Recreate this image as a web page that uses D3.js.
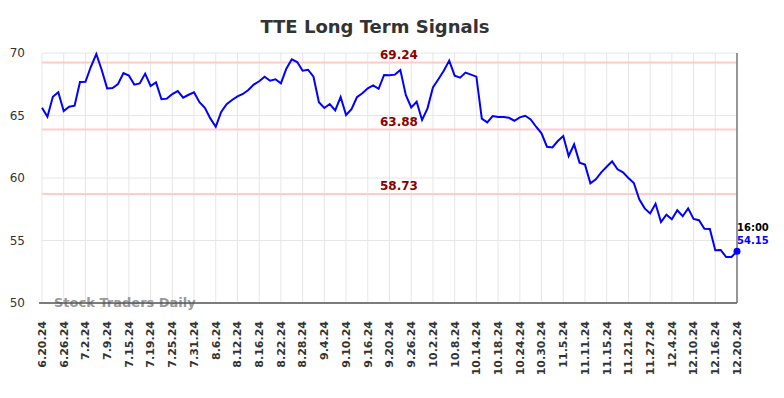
<!DOCTYPE html>
<html>
<head>
<meta charset="utf-8">
<script src="https://d3js.org/d3.v7.min.js"></script>
<style>
  body { margin: 0; background: #fff; }
  text { font-family: "DejaVu Sans", sans-serif; }
</style>
</head>
<body>
<div id="chart"></div>
<script>
// closing values, one per trading day (6.20.24 .. 12.20.24)
var values = [
  65.62, 64.9, 66.5, 66.86, 65.36, 65.7, 65.78, 67.68, 67.7, 68.9,
  69.92, 68.64, 67.17, 67.2, 67.52, 68.4, 68.2, 67.47, 67.57, 68.35,
  67.36, 67.65, 66.3, 66.35, 66.72, 66.96, 66.42, 66.66, 66.86, 66.06,
  65.62, 64.77, 64.1, 65.28, 65.9, 66.24, 66.53, 66.72, 67.04, 67.47,
  67.74, 68.1, 67.78, 67.9, 67.57, 68.75, 69.5, 69.28, 68.58, 68.66,
  68.1, 66.06, 65.6, 65.92, 65.41, 66.48, 65.04, 65.5, 66.46, 66.78,
  67.17, 67.41, 67.14, 68.24, 68.22, 68.27, 68.64, 66.64, 65.65, 66.1,
  64.64, 65.57, 67.25, 67.9, 68.58, 69.39, 68.19, 68.03, 68.43, 68.27,
  68.11, 64.75, 64.45, 64.96, 64.88, 64.88, 64.82, 64.58, 64.85, 64.98,
  64.69, 64.1, 63.57, 62.5, 62.45, 62.96, 63.36, 61.76, 62.69, 61.23,
  61.07, 59.57, 59.9, 60.45, 60.9, 61.33, 60.7, 60.45, 60.0, 59.6,
  58.3, 57.57, 57.17, 57.94, 56.48, 57.07, 56.7, 57.42, 56.94, 57.57,
  56.72, 56.62, 55.94, 55.92, 54.22, 54.24, 53.68, 53.68, 54.15
];

// one label every 4 trading days
var tickLabels = [
  "6.20.24", "6.26.24", "7.2.24", "7.9.24", "7.15.24", "7.19.24", "7.25.24",
  "7.31.24", "8.6.24", "8.12.24", "8.16.24", "8.22.24", "8.28.24", "9.4.24",
  "9.10.24", "9.16.24", "9.20.24", "9.26.24", "10.2.24", "10.8.24", "10.14.24",
  "10.18.24", "10.24.24", "10.30.24", "11.5.24", "11.11.24", "11.15.24",
  "11.21.24", "11.27.24", "12.4.24", "12.10.24", "12.16.24", "12.20.24"
];
var tickStep = 4;

var yTicks = [50, 55, 60, 65, 70];
var signalLevels = [69.24, 63.88, 58.73];
var lastTime = "16:00";

var width = 784, height = 398;
var margin = { top: 53, right: 47, bottom: 95, left: 42 };
var w = width - margin.left - margin.right,
  h = height - margin.top - margin.bottom;

var svg = d3
  .select("#chart")
  .append("svg")
  .attr("width", width)
  .attr("height", height);

svg
  .append("text")
  .attr("x", 375)
  .attr("y", 33)
  .attr("text-anchor", "middle")
  .style("font-size", "18px")
  .style("font-weight", "bold")
  .style("fill", "#333")
  .text("TTE Long Term Signals");

var g = svg
  .append("g")
  .attr("transform", "translate(" + margin.left + "," + margin.top + ")");

var x = d3.scaleLinear().domain([0, values.length - 1]).range([0, w]);
var y = d3.scaleLinear().domain([50, 70]).range([h, 0]);

var tickIdx = tickLabels.map(function (d, i) {
  return i * tickStep;
});

// grid
g.append("g")
  .selectAll("line")
  .data(yTicks)
  .enter()
  .append("line")
  .attr("x1", 0)
  .attr("x2", w)
  .attr("y1", function (d) { return y(d); })
  .attr("y2", function (d) { return y(d); })
  .style("stroke", "#e6e6e6");

g.append("g")
  .selectAll("line")
  .data(tickIdx)
  .enter()
  .append("line")
  .attr("x1", function (d) { return x(d); })
  .attr("x2", function (d) { return x(d); })
  .attr("y1", 0)
  .attr("y2", h)
  .style("stroke", "#e6e6e6");

// y labels
g.append("g")
  .selectAll("text")
  .data(yTicks)
  .enter()
  .append("text")
  .attr("x", -17)
  .attr("y", function (d) { return y(d); })
  .attr("dy", "0.35em")
  .attr("text-anchor", "end")
  .style("font-size", "12px")
  .style("fill", "#333")
  .text(function (d) { return d; });

// x labels (rotated)
g.append("g")
  .selectAll("text")
  .data(tickLabels)
  .enter()
  .append("text")
  .attr("transform", function (d, i) {
    return "translate(" + x(tickIdx[i]) + "," + (h + 18) + ") rotate(-90)";
  })
  .attr("dy", "0.35em")
  .attr("text-anchor", "end")
  .style("font-size", "11px")
  .style("font-weight", "bold")
  .style("fill", "#333")
  .text(function (d) { return d; });

// signal levels
g.append("g")
  .selectAll("line")
  .data(signalLevels)
  .enter()
  .append("line")
  .attr("x1", 0)
  .attr("x2", w)
  .attr("y1", function (d) { return y(d); })
  .attr("y2", function (d) { return y(d); })
  .style("stroke", "#ffcccc")
  .style("stroke-width", 2);

// watermark
g.append("text")
  .attr("x", 12)
  .attr("y", h + 4)
  .style("font-size", "13px")
  .style("font-weight", "bold")
  .style("fill", "#999")
  .text("Stock Traders Daily");

// axis lines
g.append("line")
  .attr("x1", -3)
  .attr("x2", w)
  .attr("y1", h)
  .attr("y2", h)
  .style("stroke", "#555")
  .style("stroke-width", 1.5);
g.append("line")
  .attr("x1", w)
  .attr("x2", w)
  .attr("y1", 0)
  .attr("y2", h)
  .style("stroke", "#777")
  .style("stroke-width", 1.5);

// price line
var line = d3
  .line()
  .x(function (d, i) { return x(i); })
  .y(function (d) { return y(d); });

g.append("path")
  .datum(values)
  .attr("d", line)
  .style("fill", "none")
  .style("stroke", "#0000ff")
  .style("stroke-width", 2);

// level labels
g.append("g")
  .selectAll("text")
  .data(signalLevels)
  .enter()
  .append("text")
  .attr("x", 357)
  .attr("y", function (d) { return y(d) - 4; })
  .attr("text-anchor", "middle")
  .style("font-size", "12px")
  .style("font-weight", "bold")
  .style("fill", "#8b0000")
  .text(function (d) { return d.toFixed(2); });

// last point
var last = values.length - 1;
g.append("circle")
  .attr("cx", x(last))
  .attr("cy", y(values[last]))
  .attr("r", 3.5)
  .style("fill", "#0000ff");

g.append("text")
  .attr("x", x(last))
  .attr("y", y(values[last]) - 20)
  .style("font-size", "10px")
  .style("font-weight", "bold")
  .style("fill", "#000")
  .text(lastTime);

g.append("text")
  .attr("x", x(last))
  .attr("y", y(values[last]) - 7)
  .style("font-size", "10px")
  .style("font-weight", "bold")
  .style("fill", "#0000ff")
  .text(values[last].toFixed(2));
</script>
</body>
</html>
